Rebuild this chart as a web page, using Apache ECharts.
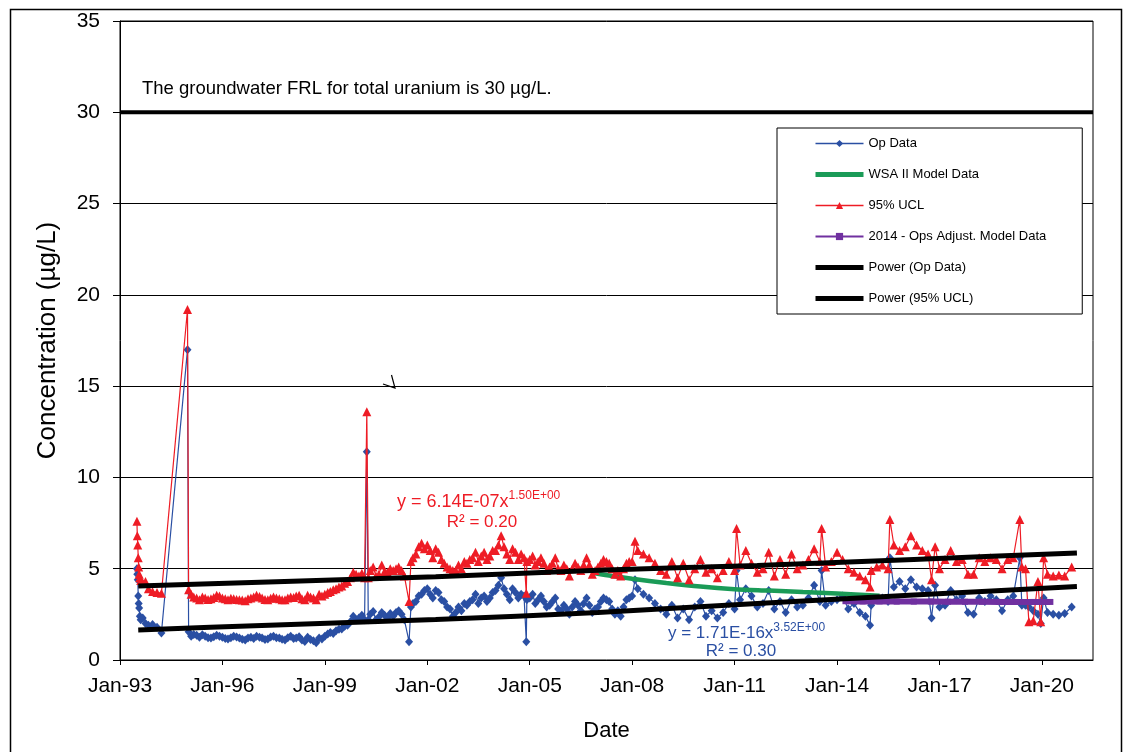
<!DOCTYPE html>
<html>
<head>
<meta charset="utf-8">
<script src="https://cdn.jsdelivr.net/npm/echarts@6/dist/echarts.min.js"></script>
<style>
  html, body { margin: 0; padding: 0; background: #fff; }
  #chart { width: 1135px; height: 752px; }
</style>
</head>
<body>
<div id="chart"></div>
<script>
// ---------------- DATA ----------------
// Sample dates shared by "Op Data" and "95% UCL"
const sampleDates = [
  '1993-07-01','1993-07-05','1993-07-10','1993-07-15','1993-07-20','1993-07-25','1993-08-01','1993-08-10',
  '1993-09-01','1993-10-01','1993-11-01','1993-12-15','1994-02-01','1994-03-20','1994-12-24','1995-01-05',
  '1995-02','1995-03','1995-04','1995-05','1995-06','1995-07','1995-08','1995-09','1995-10','1995-11','1995-12',
  '1996-01','1996-02','1996-03','1996-04','1996-05','1996-06','1996-07','1996-08','1996-09','1996-10','1996-11','1996-12',
  '1997-01','1997-02','1997-03','1997-04','1997-05','1997-06','1997-07','1997-08','1997-09','1997-10','1997-11','1997-12',
  '1998-01','1998-02','1998-03','1998-04','1998-05','1998-06','1998-07','1998-08','1998-09','1998-10','1998-11','1998-12',
  '1999-01','1999-02','1999-03','1999-04','1999-05','1999-06','1999-07','1999-08','1999-09','1999-10','1999-11','1999-12',
  '2000-01','2000-02','2000-03','2000-03-25','2000-04-10','2000-05','2000-06','2000-07','2000-08','2000-09','2000-10','2000-11','2000-12',
  '2001-01','2001-02','2001-03','2001-04','2001-05','2001-06-20','2001-07-10','2001-08','2001-09','2001-10','2001-11','2001-12',
  '2002-01','2002-02','2002-03','2002-04','2002-05','2002-06','2002-07','2002-08','2002-09','2002-10','2002-11','2002-12',
  '2003-01','2003-02','2003-03','2003-04','2003-05','2003-06','2003-07','2003-08','2003-09','2003-10','2003-11','2003-12',
  '2004-01','2004-02','2004-03','2004-04','2004-05','2004-06','2004-07','2004-08','2004-09','2004-10','2004-11','2004-11-25','2004-12',
  '2005-01','2005-02','2005-03','2005-04','2005-05','2005-06','2005-07','2005-08','2005-09','2005-10','2005-11','2005-12',
  '2006-01','2006-02','2006-03','2006-04','2006-05','2006-06','2006-07','2006-08','2006-09','2006-10','2006-11','2006-12',
  '2007-01','2007-02','2007-03','2007-04','2007-05','2007-06','2007-07','2007-08','2007-09','2007-10','2007-11','2007-12',
  '2008-01','2008-02','2008-03','2008-05','2008-07','2008-09','2008-11',
  '2009-01','2009-03','2009-05','2009-07','2009-09','2009-11',
  '2010-01','2010-03','2010-05','2010-07','2010-09','2010-11',
  '2011-01','2011-01-22','2011-03','2011-05','2011-07','2011-09','2011-11',
  '2012-01','2012-03','2012-05','2012-07','2012-09','2012-11',
  '2013-01','2013-03','2013-05','2013-07','2013-07-20','2013-09','2013-11',
  '2014-01','2014-03','2014-05','2014-07','2014-09','2014-11','2014-12-20',
  '2015-01','2015-03','2015-05','2015-07','2015-07-20','2015-09','2015-11',
  '2016-01','2016-03','2016-05','2016-07','2016-09','2016-10-08','2016-11-15',
  '2017-01','2017-03','2017-05','2017-07','2017-09','2017-11',
  '2018-01','2018-03','2018-05','2018-07','2018-09','2018-11',
  '2019-01','2019-03','2019-05-10','2019-06-01','2019-07-10','2019-08-15','2019-10-01','2019-11-20','2019-12-20',
  '2020-01-20','2020-03','2020-05','2020-07','2020-09','2020-11-15'
];

const opValues = [
  5.0, 4.7, 4.4, 3.5, 3.1, 2.85, 2.4, 2.2,
  2.3, 2.0, 1.9, 1.95, 1.8, 1.48, 17.0, 1.55,
  1.30, 1.40, 1.35, 1.25, 1.38, 1.30, 1.22, 1.20, 1.28, 1.35, 1.30,
  1.25, 1.18, 1.15, 1.22, 1.30, 1.26, 1.20, 1.14, 1.10, 1.20, 1.25, 1.18,
  1.30, 1.24, 1.20, 1.12, 1.15, 1.26, 1.30, 1.22, 1.20, 1.14, 1.10, 1.22,
  1.30, 1.18, 1.20, 1.28, 1.10, 1.02, 1.25, 1.12, 1.05, 0.95, 1.20, 1.15,
  1.30, 1.42, 1.50, 1.45, 1.60, 1.68, 1.70, 1.85, 1.90, 2.10, 2.40, 2.20,
  2.30, 2.45, 2.20, 11.4, 2.20, 2.50, 2.65, 2.20, 2.35, 2.60, 2.45, 2.30, 2.55,
  2.40, 2.60, 2.70, 2.50, 2.20, 1.00, 2.90, 3.10, 3.20, 3.50, 3.60, 3.80,
  3.90, 3.60, 3.40, 3.80, 3.70, 3.30, 3.20, 2.90, 2.80, 2.40, 2.60, 2.90,
  2.70, 3.10, 3.00, 3.20, 3.30, 3.60, 3.10, 3.40, 3.50, 3.20, 3.40, 3.70,
  3.80, 4.10, 4.50, 3.90, 3.60, 3.30, 3.90, 3.70, 3.40, 3.60, 3.50, 1.00, 3.30,
  3.40, 3.60, 3.10, 3.30, 3.50, 3.20, 2.90, 3.00, 3.20, 3.40, 2.80, 2.70,
  3.00, 2.80, 2.50, 2.90, 3.20, 3.00, 2.70, 3.10, 3.40, 3.00, 2.60, 2.80,
  2.90, 3.20, 3.40, 3.30, 3.20, 2.80, 2.50, 2.70, 2.40, 2.90, 3.30, 3.40,
  3.50, 4.40, 3.90, 3.60, 3.40, 3.10, 2.80,
  2.50, 3.00, 2.30, 2.80, 2.20, 2.90,
  3.20, 2.40, 2.70, 2.30, 2.60, 3.10,
  2.80, 4.90, 3.30, 3.90, 3.50, 2.90, 3.10,
  3.80, 2.80, 3.20, 2.60, 3.30, 2.90,
  3.00, 3.40, 4.10, 3.20, 4.90, 3.00, 3.20,
  3.30, 3.50, 2.80, 3.10, 2.60, 2.40, 1.90,
  3.00, 3.30, 3.40, 3.20, 5.60, 4.00, 4.30,
  3.90, 4.40, 4.00, 3.90, 3.80, 2.30, 4.10,
  2.90, 3.00, 3.80, 3.30, 3.50, 2.60,
  2.50, 3.40, 3.20, 3.50, 3.30, 2.70,
  3.30, 3.50, 5.60, 3.00, 3.00, 2.90, 2.70, 2.50, 2.00,
  3.40, 2.60, 2.50, 2.45, 2.55, 2.90
];

const uclValues = [
  7.6, 6.8, 6.3, 5.6, 5.1, 4.7, 4.5, 4.35,
  4.25, 4.3, 3.9, 3.75, 3.7, 3.65, 19.2, 3.85,
  3.60, 3.45, 3.40, 3.30, 3.45, 3.40, 3.32, 3.35, 3.42, 3.55, 3.50,
  3.40, 3.35, 3.30, 3.38, 3.35, 3.32, 3.30, 3.28, 3.25, 3.35, 3.40, 3.45,
  3.55, 3.48, 3.40, 3.32, 3.30, 3.38, 3.45, 3.40, 3.35, 3.30, 3.30, 3.40,
  3.45, 3.42, 3.50, 3.55, 3.35, 3.30, 3.55, 3.45, 3.40, 3.30, 3.60, 3.50,
  3.60, 3.70, 3.75, 3.85, 3.90, 4.00, 4.05, 4.20, 4.30, 4.50, 4.80, 4.70,
  4.60, 4.75, 4.50, 13.6, 4.50, 4.90, 5.10, 4.60, 4.70, 5.20, 4.85, 4.80, 5.00,
  4.90, 5.00, 5.10, 4.90, 4.60, 3.20, 5.40, 5.60, 5.80, 6.20, 6.40, 6.10,
  6.30, 6.00, 5.60, 6.10, 5.90, 5.50, 5.30, 5.10, 5.00, 4.90, 4.90, 5.20,
  5.00, 5.40, 5.30, 5.50, 5.60, 5.90, 5.40, 5.70, 5.90, 5.50, 5.70, 6.00,
  6.00, 6.30, 6.80, 6.20, 5.80, 5.50, 6.10, 5.90, 5.50, 5.80, 5.60, 3.65, 5.40,
  5.50, 5.70, 5.20, 5.40, 5.60, 5.30, 4.90, 5.10, 5.30, 5.60, 5.00, 4.90,
  5.20, 5.00, 4.60, 5.00, 5.30, 5.10, 4.90, 5.20, 5.60, 5.20, 4.70, 4.90,
  5.10, 5.30, 5.50, 5.40, 5.30, 5.00, 4.70, 4.90, 4.60, 5.00, 5.30, 5.40,
  5.40, 6.50, 6.00, 5.80, 5.60, 5.30, 4.90,
  4.70, 5.40, 4.50, 5.30, 4.40, 5.00,
  5.50, 4.80, 5.00, 4.50, 4.90, 5.40,
  4.90, 7.20, 5.20, 6.00, 5.30, 4.80, 5.00,
  5.90, 4.60, 5.50, 4.70, 5.80, 5.00,
  5.20, 5.50, 6.10, 5.40, 7.20, 5.10, 5.40,
  5.90, 5.50, 5.00, 4.80, 4.60, 4.40, 4.00,
  4.90, 5.10, 5.20, 5.00, 7.70, 6.30, 6.00,
  6.20, 6.80, 6.30, 6.00, 5.80, 4.40, 6.20,
  5.00, 5.50, 6.00, 5.40, 5.50, 4.70,
  4.70, 5.60, 5.40, 5.60, 5.50, 5.00,
  5.50, 5.60, 7.70, 5.10, 5.00, 2.10, 2.15, 4.30, 2.10,
  5.60, 4.70, 4.60, 4.65, 4.60, 5.10
];

const wsaDates  = ['2006-12-01','2007-06-01','2008-01-01','2009-01-01','2010-01-01','2011-01-01','2012-01-01','2013-01-01','2014-01-01','2015-04-01'];
const wsaValues = [4.75, 4.60, 4.45, 4.22, 4.02, 3.88, 3.80, 3.72, 3.64, 3.52];

const opsAdjDates  = ['2014-04-01','2014-10-01','2015-04-01','2015-10-01','2016-04-01','2016-10-01','2017-04-01','2017-10-01','2018-04-01','2018-10-01','2019-04-01','2019-10-01','2020-04-01'];
const opsAdjValues = [3.22, 3.21, 3.21, 3.20, 3.20, 3.20, 3.19, 3.19, 3.19, 3.18, 3.18, 3.18, 3.18];

const trendDates     = ['1993-07-15','1997-08-01','2002-04-01','2007-01-01','2011-09-01','2016-04-01','2021-01-10'];
const opTrendValues  = [1.64, 1.92, 2.22, 2.60, 3.10, 3.56, 4.03];
const uclTrendValues = [4.05, 4.29, 4.56, 4.92, 5.18, 5.51, 5.86];

const frlDates  = ['1993-01-01','2021-07-01'];
const frlValues = [30, 30];

const xTickStartDate = '1993-01-01';
const xAxisEndDate = '2021-07-01';
const yTicks = { min: 0, max: 35, step: 5 };
const monthNames = ['Jan','Feb','Mar','Apr','May','Jun','Jul','Aug','Sep','Oct','Nov','Dec'];

// ---------------- BUILD ----------------
const DAY = 86400000;
const origin = Date.parse(xTickStartDate);
function toDays(s) { return (Date.parse(s) - origin) / DAY; }
function pairs(dates, vals) { return dates.map((d, i) => [toDays(d), vals[i]]); }

const FONT = "'Liberation Sans', Arial, sans-serif";
const BLUE = '#2a4fa3';
const RED = '#ee1c25';
const GREEN = '#1a9b57';
const PURPLE = '#7030a0';

const chart = echarts.init(document.getElementById('chart'), null, { renderer: 'canvas' });

const option = {
  animation: false,
  backgroundColor: '#fff',
  textStyle: { fontFamily: FONT },
  grid: { left: 120, top: 21, width: 973, height: 639, show: true, borderColor: '#000', borderWidth: 1 },
  xAxis: {
    type: 'value',
    min: 0,
    max: toDays(xAxisEndDate),
    interval: 365.25 * 3,
    name: 'Date',
    nameLocation: 'middle',
    nameGap: 60,
    nameTextStyle: { fontSize: 22, color: '#000', fontFamily: FONT },
    axisLine: { show: true, lineStyle: { color: '#000', width: 1 } },
    axisTick: { show: true, length: 5, lineStyle: { color: '#000' } },
    splitLine: { show: false },
    axisLabel: {
      color: '#000', fontSize: 21, fontFamily: FONT, margin: 16, showMaxLabel: false,
      formatter: function (v) {
        const d = new Date(origin + (v + 2) * DAY);
        return monthNames[d.getUTCMonth()] + '-' + String(d.getUTCFullYear() % 100).padStart(2, '0');
      }
    }
  },
  yAxis: {
    type: 'value',
    min: yTicks.min, max: yTicks.max, interval: yTicks.step,
    name: 'Concentration (µg/L)',
    nameLocation: 'middle',
    nameGap: 59,
    nameTextStyle: { fontSize: 26, color: '#000', fontFamily: FONT },
    axisLine: { show: true, lineStyle: { color: '#000', width: 1 } },
    axisTick: { show: true, length: 7, lineStyle: { color: '#000' } },
    splitLine: { show: true, lineStyle: { color: '#000', width: 1 } },
    axisLabel: { color: '#000', fontSize: 21, fontFamily: FONT, margin: 20 }
  },
  legend: {
    orient: 'vertical',
    left: 777, top: 128,
    padding: [9, 36, 9, 36],
    itemGap: 18, itemWidth: 48, itemHeight: 9,
    backgroundColor: '#fff', borderColor: '#000', borderWidth: 1, borderRadius: 0,
    textStyle: { fontFamily: FONT, fontSize: 13, color: '#000' },
    data: [
      { name: 'Op Data', lineStyle: { width: 1.5 } },
      { name: 'WSA II Model Data', lineStyle: { width: 5 }, itemStyle: { opacity: 0 } },
      { name: '95% UCL', lineStyle: { width: 1.5 } },
      { name: '2014 - Ops Adjust. Model Data', lineStyle: { width: 2 } },
      { name: 'Power (Op Data)', lineStyle: { width: 5 }, itemStyle: { opacity: 0 } },
      { name: 'Power (95% UCL)', lineStyle: { width: 5 }, itemStyle: { opacity: 0 } }
    ]
  },
  series: [
    {
      name: 'FRL', type: 'line', data: pairs(frlDates, frlValues), symbol: 'none',
      lineStyle: { color: '#000', width: 4 }, itemStyle: { color: '#000' }, z: 3, silent: true
    },
    {
      name: 'Op Data', type: 'line', data: pairs(sampleDates, opValues),
      symbol: 'diamond', symbolSize: [8, 9],
      lineStyle: { color: BLUE, width: 1.2 }, itemStyle: { color: BLUE }, z: 4
    },
    {
      name: 'WSA II Model Data', type: 'line', data: pairs(wsaDates, wsaValues),
      symbol: 'none', smooth: 0.3,
      lineStyle: { color: GREEN, width: 4.5 }, itemStyle: { color: GREEN }, z: 5
    },
    {
      name: '95% UCL', type: 'line', data: pairs(sampleDates, uclValues),
      symbol: 'triangle', symbolSize: [9, 9],
      lineStyle: { color: RED, width: 1.2 }, itemStyle: { color: RED }, z: 6
    },
    {
      name: '2014 - Ops Adjust. Model Data', type: 'line', data: pairs(opsAdjDates, opsAdjValues),
      symbol: 'rect', symbolSize: 6,
      lineStyle: { color: PURPLE, width: 6 }, itemStyle: { color: PURPLE }, z: 7
    },
    {
      name: 'Power (Op Data)', type: 'line', data: pairs(trendDates, opTrendValues),
      symbol: 'none', smooth: 0.2,
      lineStyle: { color: '#000', width: 5 }, itemStyle: { color: '#000' }, z: 8
    },
    {
      name: 'Power (95% UCL)', type: 'line', data: pairs(trendDates, uclTrendValues),
      symbol: 'none', smooth: 0.2,
      lineStyle: { color: '#000', width: 5 }, itemStyle: { color: '#000' }, z: 8
    }
  ],
  graphic: [
    { type: 'rect', left: 8, top: 7, shape: { width: 1111, height: 760 }, style: { fill: 'none', stroke: '#000', lineWidth: 1.5 }, silent: true, z: 0 },
    { type: 'text', x: 142, y: 89, style: { text: 'The groundwater FRL for total uranium is 30 µg/L.', font: '18.5px ' + FONT, fill: '#000', textVerticalAlign: 'middle' }, z: 20 },
    {
      type: 'text', x: 397, y: 490,
      style: {
        text: '{m|y = 6.14E-07x}{s|1.50E+00}', fill: RED, textVerticalAlign: 'top',
        rich: {
          m: { fontSize: 18, fontFamily: FONT, fill: RED, lineHeight: 21, verticalAlign: 'bottom' },
          s: { fontSize: 12, fontFamily: FONT, fill: RED, lineHeight: 21, verticalAlign: 'top' }
        }
      }, z: 20
    },
    { type: 'text', x: 482, y: 522, style: { text: 'R² = 0.20', font: '17px ' + FONT, fill: RED, textAlign: 'center', textVerticalAlign: 'middle' }, z: 20 },
    {
      type: 'text', x: 668, y: 622,
      style: {
        text: '{m|y = 1.71E-16x}{s|3.52E+00}', fill: BLUE, textVerticalAlign: 'top',
        rich: {
          m: { fontSize: 17, fontFamily: FONT, fill: BLUE, lineHeight: 20, verticalAlign: 'bottom' },
          s: { fontSize: 12, fontFamily: FONT, fill: BLUE, lineHeight: 20, verticalAlign: 'top' }
        }
      }, z: 20
    },
    { type: 'text', x: 741, y: 651, style: { text: 'R² = 0.30', font: '17px ' + FONT, fill: BLUE, textAlign: 'center', textVerticalAlign: 'middle' }, z: 20 },
    { type: 'polyline', shape: { points: [[383, 384], [395, 388], [391.5, 375]] }, style: { stroke: '#000', lineWidth: 1.2, fill: 'none' }, z: 20 }
  ]
};

chart.setOption(option);
</script>
</body>
</html>
